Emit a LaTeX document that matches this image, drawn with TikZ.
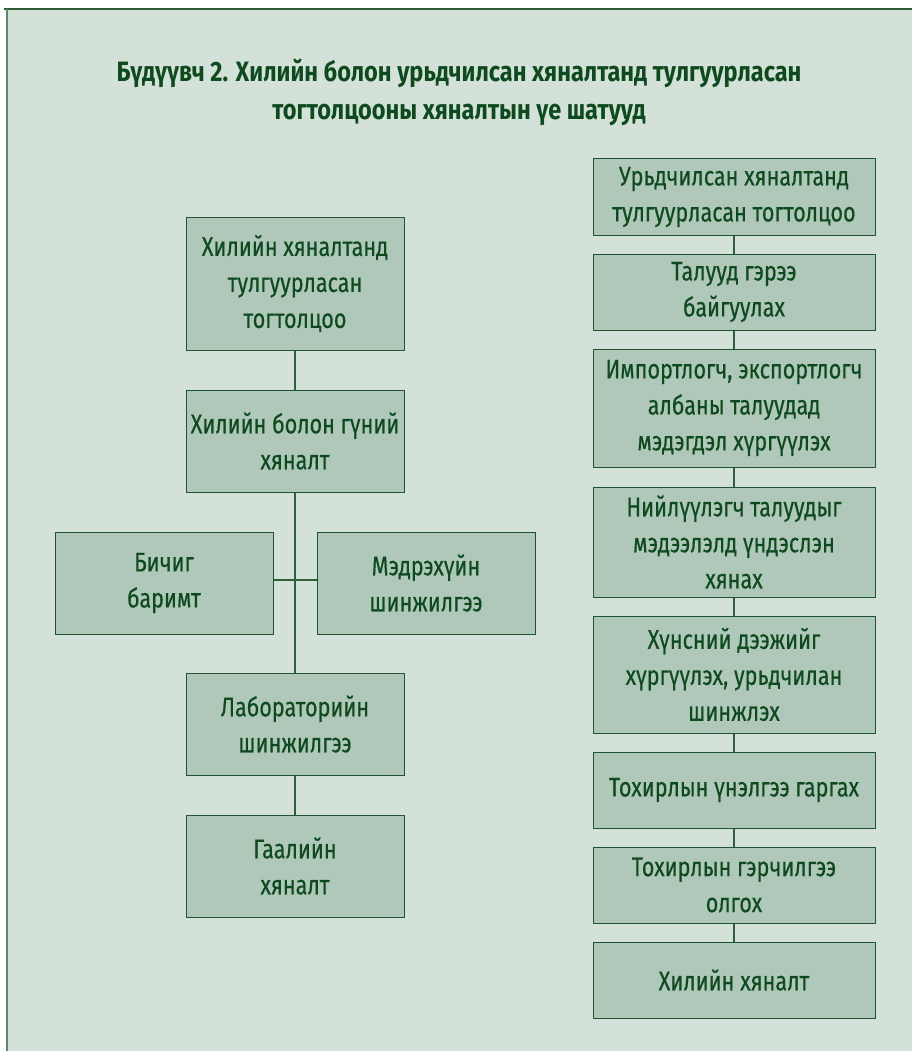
\documentclass[tikz,border=0pt]{standalone}
\usepackage{fontspec}
\newfontfamily\boxfam{Fira Sans}[FakeStretch=0.8, FakeBold=0.4]
\newfontfamily\titlefam{Fira Sans}[FakeStretch=0.84]
\definecolor{bgc}{HTML}{D4E1D8}
\definecolor{boxfill}{HTML}{B0C8BA}
\definecolor{boxline}{HTML}{1E5530}
\definecolor{txt}{HTML}{0D4A1E}
\definecolor{framec}{HTML}{2C5A36}
\definecolor{framel}{HTML}{5B8A68}
\definecolor{linkc}{HTML}{2F5F3F}
\tikzset{
  stagebox/.style={draw=boxline, fill=boxfill, line width=1pt, align=center,
    inner sep=0pt, text=txt, font=\boxfam\fontsize{27}{36}\selectfont},
  link/.style={draw=linkc, line width=1.5pt},
}
\begin{document}
\begin{tikzpicture}[x=1pt,y=-1pt]
\useasboundingbox (0,0) rectangle (912,1051);
\fill[white] (0,0) rectangle (912,1051);
\fill[bgc] (7,9) rectangle (912,1051);
\draw[framec, line width=1.5pt] (4,9) -- (912,9);
\draw[framel, line width=2pt] (7,9) -- (7,1051);

\node[text=txt, align=center, font=\titlefam\bfseries\fontsize{28}{38}\selectfont] (title) at (459,92)
  {Бүдүүвч 2. Хилийн болон урьдчилсан хяналтанд тулгуурласан\\тогтолцооны хяналтын үе шатууд};

% left column
\node[stagebox, minimum width=218pt, minimum height=133pt] (L1) at (295,283.5) {Хилийн хяналтанд\\тулгуурласан\\тогтолцоо};
\node[stagebox, minimum width=218pt, minimum height=102pt] (L2) at (295,441) {Хилийн болон гүний\\хяналт};
\node[stagebox, minimum width=218pt, minimum height=102pt] (B) at (164,583) {Бичиг\\баримт};
\node[stagebox, minimum width=218pt, minimum height=102pt] (M) at (426,583) {Мэдрэхүйн\\шинжилгээ};
\node[stagebox, minimum width=218pt, minimum height=102pt] (Lab) at (295,724) {Лабораторийн\\шинжилгээ};
\node[stagebox, minimum width=218pt, minimum height=102pt] (G) at (295,866) {Гаалийн\\хяналт};
\coordinate (j) at (295,580);

% right column
\node[stagebox, minimum width=282pt, minimum height=76pt] (R1) at (734,197) {Урьдчилсан хяналтанд\\тулгуурласан тогтолцоо};
\node[stagebox, minimum width=282pt, minimum height=76pt] (R2) at (734,292) {Талууд гэрээ\\байгуулах};
\node[stagebox, minimum width=282pt, minimum height=118pt] (R3) at (734,408) {Импортлогч, экспортлогч\\албаны талуудад\\мэдэгдэл хүргүүлэх};
\node[stagebox, minimum width=282pt, minimum height=110pt] (R4) at (734,542) {Нийлүүлэгч талуудыг\\мэдээлэлд үндэслэн\\хянах};
\node[stagebox, minimum width=282pt, minimum height=117pt] (R5) at (734,674.5) {Хүнсний дээжийг\\хүргүүлэх, урьдчилан\\шинжлэх};
\node[stagebox, minimum width=282pt, minimum height=76pt] (R6) at (734,790) {Тохирлын үнэлгээ гаргах};
\node[stagebox, minimum width=282pt, minimum height=76pt] (R7) at (734,885) {Тохирлын гэрчилгээ\\олгох};
\node[stagebox, minimum width=282pt, minimum height=76pt] (R8) at (734,980) {Хилийн хяналт};

% connectors
\path[link] (L1.south) -- (L2.north);
\path[link] (L2.south) -- (Lab.north);
\path[link] (Lab.south) -- (G.north);
\path[link] (B.east |- j) -- (M.west |- j);
\path[link] (R1.south) -- (R2.north);
\path[link] (R2.south) -- (R3.north);
\path[link] (R3.south) -- (R4.north);
\path[link] (R4.south) -- (R5.north);
\path[link] (R5.south) -- (R6.north);
\path[link] (R6.south) -- (R7.north);
\path[link] (R7.south) -- (R8.north);
\end{tikzpicture}
\end{document}
